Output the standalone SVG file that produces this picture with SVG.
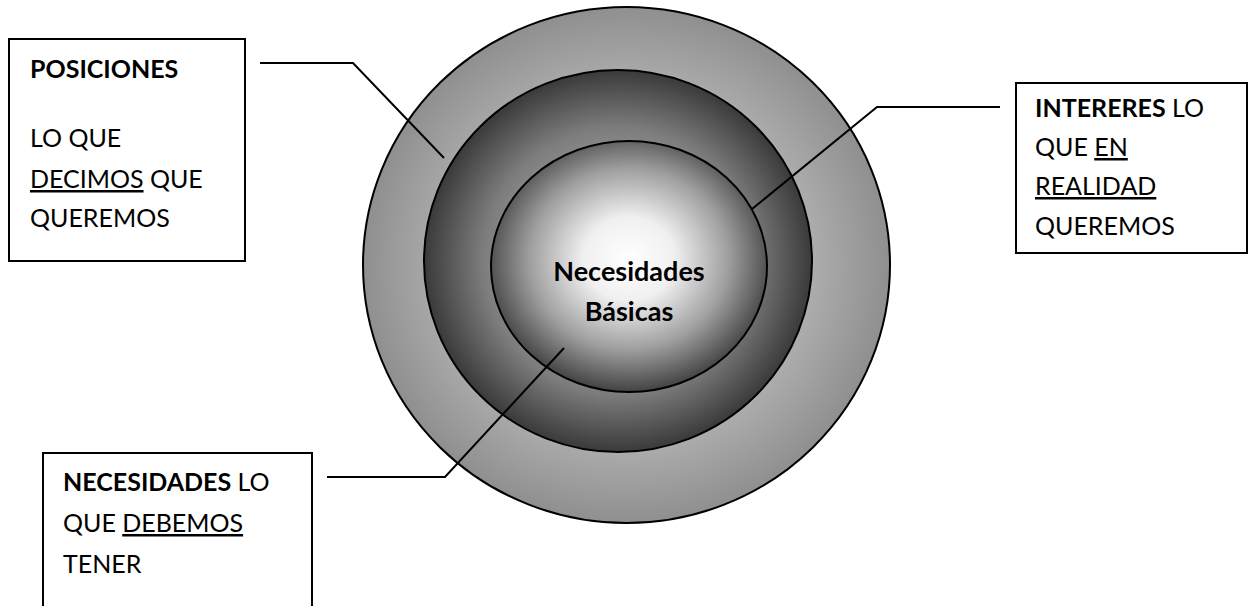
<svg xmlns="http://www.w3.org/2000/svg" width="1248" height="606" viewBox="0 0 1248 606">
  <style>
    .box { fill: #ffffff; stroke: #000000; stroke-width: 2; }
    .ring { stroke: #000000; stroke-width: 2; }
    .conn { fill: none; stroke: #000000; stroke-width: 2; }
    .t { font-family: Lato, "Liberation Sans", sans-serif; font-size: 25px; fill: #000000; }
    .c { font-size: 27px; }
    .b { font-weight: bold; }
    .u { text-decoration: underline; }
  </style>
  <defs>
    <radialGradient id="gOuter" cx="0.5" cy="0.5" r="0.5">
      <stop offset="0" stop-color="#c8c8c8"/>
      <stop offset="0.72" stop-color="#ababab"/>
      <stop offset="1" stop-color="#8f8f8f"/>
    </radialGradient>
    <radialGradient id="gMiddle" cx="0.5" cy="0.5" r="0.5">
      <stop offset="0" stop-color="#d0d0d0"/>
      <stop offset="0.7" stop-color="#7c7c7c"/>
      <stop offset="1" stop-color="#3a3a3a"/>
    </radialGradient>
    <radialGradient id="gInner" cx="0.5" cy="0.47" r="0.55">
      <stop offset="0" stop-color="#ffffff"/>
      <stop offset="0.3" stop-color="#f0f0f0"/>
      <stop offset="0.65" stop-color="#a0a0a0"/>
      <stop offset="1" stop-color="#383838"/>
    </radialGradient>
  </defs>

  <g id="circles">
    <ellipse id="outer" class="ring" cx="626.5" cy="265" rx="263.5" ry="258" fill="url(#gOuter)"/>
    <ellipse id="middle" class="ring" cx="618" cy="261" rx="194" ry="191" fill="url(#gMiddle)"/>
    <ellipse id="inner" class="ring" cx="629" cy="266.5" rx="138" ry="125.5" fill="url(#gInner)"/>
    <text class="t c b" x="629" y="281" text-anchor="middle">Necesidades</text>
    <text class="t c b" x="629" y="321" text-anchor="middle">Básicas</text>
  </g>

  <g id="connectors">
    <polyline class="conn" points="260,63 353,63 444,158"/>
    <polyline class="conn" points="1000,107 877,107 752,209"/>
    <polyline class="conn" points="327,477 445,477 564,348"/>
  </g>

  <g id="posiciones">
    <rect class="box" x="9" y="39" width="236" height="222"/>
    <text class="t b" x="30" y="78">POSICIONES</text>
    <text class="t" x="30" y="147">LO QUE</text>
    <text class="t" x="30" y="188"><tspan class="u">DECIMOS</tspan> QUE</text>
    <text class="t" x="30" y="227">QUEREMOS</text>
  </g>

  <g id="intereres">
    <rect class="box" x="1016" y="83" width="231" height="170"/>
    <text class="t" x="1035" y="117"><tspan class="b">INTERERES</tspan> LO</text>
    <text class="t" x="1035" y="156">QUE <tspan class="u">EN</tspan></text>
    <text class="t" x="1035" y="195"><tspan class="u">REALIDAD</tspan></text>
    <text class="t" x="1035" y="235">QUEREMOS</text>
  </g>

  <g id="necesidades">
    <rect class="box" x="43" y="453" width="269" height="160"/>
    <text class="t" x="63" y="491"><tspan class="b">NECESIDADES</tspan> LO</text>
    <text class="t" x="63" y="532">QUE <tspan class="u">DEBEMOS</tspan></text>
    <text class="t" x="63" y="573">TENER</text>
  </g>
</svg>
